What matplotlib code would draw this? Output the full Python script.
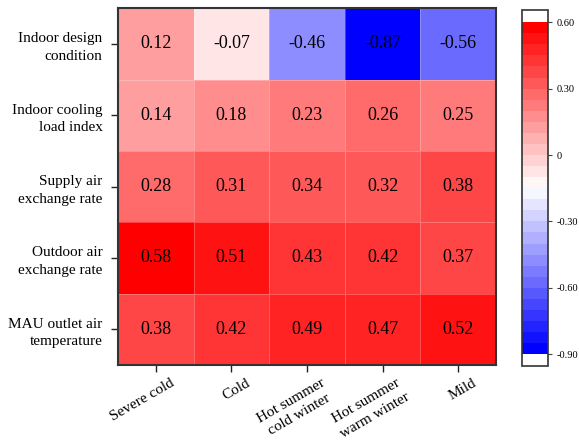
import numpy as np
import matplotlib
matplotlib.use('Agg')
import matplotlib.pyplot as plt
import matplotlib.transforms as mtrans
from matplotlib.colors import BoundaryNorm

plt.rcParams['font.family'] = ['Liberation Serif', 'DejaVu Serif']

# 行・列ラベル
rows = ['Indoor design\ncondition', 'Indoor cooling\nload index', 'Supply air\nexchange rate',
        'Outdoor air\nexchange rate', 'MAU outlet air\ntemperature']
cols = ['Severe cold', 'Cold', 'Hot summer\ncold winter', 'Hot summer\nwarm winter', 'Mild']

# 相関係数
r_design = [0.12, -0.07, -0.46, -0.87, -0.56]
r_cooling = [0.14, 0.18, 0.23, 0.26, 0.25]
r_supply = [0.28, 0.31, 0.34, 0.32, 0.38]
r_outdoor = [0.58, 0.51, 0.43, 0.42, 0.37]
r_mau = [0.38, 0.42, 0.49, 0.47, 0.52]
vals = np.array([r_design, r_cooling, r_supply, r_outdoor, r_mau])

cbar_ticks = [-0.9, -0.6, -0.3, 0.0, 0.3, 0.6]
levels = np.linspace(-0.9, 0.6, 31)  # 0.05刻み

cmap = plt.get_cmap('bwr', 30).copy()
cmap.set_over('white')
cmap.set_under('white')
norm = BoundaryNorm(levels, 30)

fig = plt.figure(figsize=(5.79, 4.46), dpi=100)
ax = fig.add_axes([0.2038, 0.1816, 0.653, 0.800])
cax = fig.add_axes([0.9016, 0.179, 0.0449, 0.798])

nr, nc = vals.shape
mesh = ax.pcolormesh(np.arange(nc + 1), np.arange(nr + 1), vals, cmap=cmap, norm=norm,
                     edgecolors=(1, 1, 1, 0.25), linewidth=0.6)
ax.set_xlim(0, nc)
ax.set_ylim(nr, 0)

for i in range(nr):
    for j in range(nc):
        ax.text(j + 0.5, i + 0.5, f'{vals[i, j]:.2f}', ha='center', va='center',
                fontsize=13, color='black')

ax.tick_params(length=5, width=1, direction='out', color='#222222')
ax.tick_params(axis='x', pad=3)
ax.tick_params(axis='y', pad=6)
ax.set_xticks(np.arange(nc) + 0.5)
ax.set_xticklabels(cols, rotation=30, ha='right', va='top', rotation_mode='anchor',
                   fontsize=11, linespacing=1.35, multialignment='center')
ax.set_yticks(np.arange(nr) + 0.5)
ax.set_yticklabels(rows, fontsize=11, linespacing=1.45)
off = mtrans.ScaledTranslation(14 / 100, 0, fig.dpi_scale_trans)
for lab in ax.get_xticklabels():
    lab.set_transform(lab.get_transform() + off)
for s in ax.spines.values():
    s.set_color('#333333')
    s.set_linewidth(1.5)

cb = fig.colorbar(mesh, cax=cax, extend='both', extendrect=True, extendfrac=0.036,
                  ticks=cbar_ticks, drawedges=False)
cb.ax.set_yticklabels(['-0.90', '-0.60', '-0.30', '0', '0.30', '0.60'])
cb.ax.tick_params(labelsize=7.5, length=3, width=0.8, color='#444444')
cb.outline.set_edgecolor('#333333')
cb.outline.set_linewidth(1.2)
cb.ax.minorticks_off()

fig.savefig('out.png', dpi=100)
